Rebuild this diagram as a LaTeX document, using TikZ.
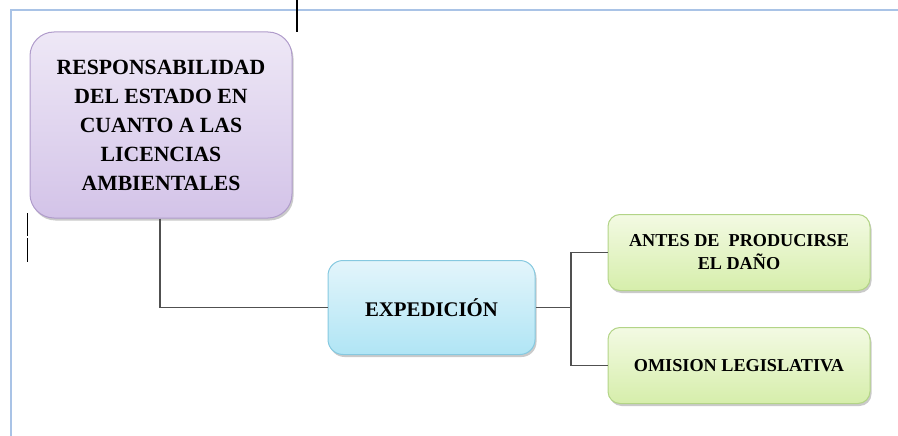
\documentclass[tikz,border=0pt]{standalone}
\usepackage{fontspec}
\setmainfont{Liberation Serif}
\usetikzlibrary{shadows}
\definecolor{pagebl}{HTML}{A9C3E6}
\definecolor{purtop}{HTML}{EEE8F6}
\definecolor{purbot}{HTML}{D3C3E8}
\definecolor{purdr}{HTML}{B09CCB}
\definecolor{blutop}{HTML}{E3F5FB}
\definecolor{blubot}{HTML}{B0E5F5}
\definecolor{bludr}{HTML}{86C9E0}
\definecolor{gretop}{HTML}{F3FAE3}
\definecolor{grebot}{HTML}{D6EEAB}
\definecolor{gredr}{HTML}{B3D487}
\definecolor{linec}{HTML}{505050}
\tikzset{
  boxbase/.style={draw, line width=1pt, align=center, font=\bfseries,
    drop shadow={shadow xshift=1.5pt, shadow yshift=-2.5pt, opacity=0.35, fill=black!60}},
  purbox/.style={boxbase, draw=purdr, top color=purtop, bottom color=purbot,
    rounded corners=24pt, minimum width=262pt, minimum height=186pt, inner sep=0pt,
    font=\bfseries\fontsize{21.7}{29}\selectfont},
  blubox/.style={boxbase, draw=bludr, top color=blutop, bottom color=blubot,
    rounded corners=15pt, minimum width=207pt, minimum height=94pt, inner sep=0pt,
    font=\bfseries\fontsize{20.8}{24}\selectfont},
  grebox/.style={boxbase, draw=gredr, top color=gretop, bottom color=grebot,
    rounded corners=12pt, minimum width=262pt, minimum height=76pt, inner sep=0pt,
    font=\bfseries\fontsize{18.2}{23}\selectfont},
  conn/.style={draw=linec, line width=1.4pt},
  tick/.style={draw=black, line width=1.2pt}
}
\begin{document}
\begin{tikzpicture}[x=1pt,y=-1pt]
\useasboundingbox (0,0) rectangle (898,436);
% page border
\draw[pagebl, line width=2pt] (898,10) -- (10.5,10) -- (10.5,436);
% tick marks
\draw[tick] (297,0) -- (297,32);
\draw[tick] (27.5,213) -- (27.5,236);
\draw[tick] (27.5,238) -- (27.5,262);
% nodes
\node[purbox] (main) at (161,125) {RESPONSABILIDAD\\DEL ESTADO EN\\CUANTO A LAS\\LICENCIAS\\AMBIENTALES};
\node[blubox] (exp) at (431.5,307.5) {EXPEDICIÓN};
\node[grebox] (g1) at (739,252.5) {ANTES DE\ \ PRODUCIRSE\\EL DAÑO};
\node[grebox] (g2) at (739,365.5) {OMISION LEGISLATIVA};
\coordinate (j) at (571,307.5);
% connectors
\draw[conn] ([xshift=-1pt]main.south) |- (exp.west);
\draw[conn] (exp.east) -- (j);
\draw[conn] (g1.west) -| (j);
\draw[conn] (g2.west) -| (j);
\end{tikzpicture}
\end{document}
